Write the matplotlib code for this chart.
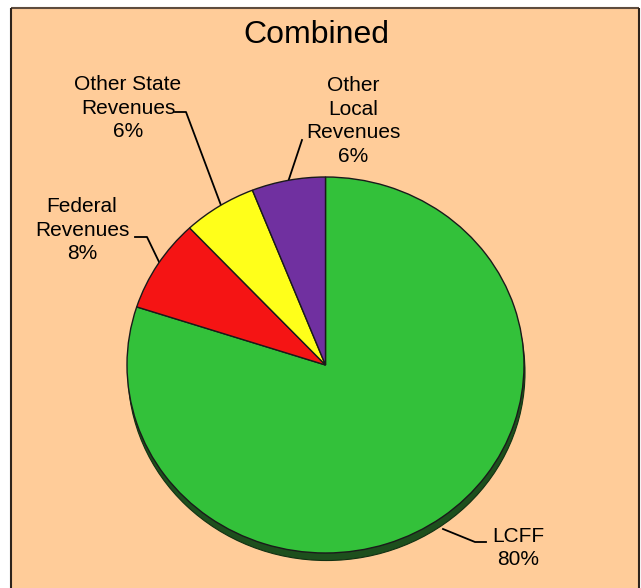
import matplotlib
matplotlib.use('Agg')
import matplotlib.pyplot as plt
from matplotlib.patches import Rectangle, Ellipse

plt.rcParams['font.family'] = ['Liberation Sans', 'DejaVu Sans']

# ========== 数据 ==========
categories = ['LCFF', 'Federal\nRevenues', 'Other State\nRevenues', 'Other\nLocal\nRevenues']
shares = [80, 8, 6, 6]
colors = ['#33C13A', '#F51414', '#FFFF1A', '#7030A0']
title = 'Combined'

# 标签位置（像素坐标）和引线
label_pos = [(518, 548), (82, 230), (128, 108), (353, 121)]
leaders = [
    [(443, 529), (475, 542), (486, 542)],
    [(135, 237), (147, 237), (161, 266)],
    [(175, 112), (186, 112), (222, 208)],
    [(302, 140), (288, 182)],
]

W, H = 641, 588
fig = plt.figure(figsize=(W / 100, H / 100), dpi=100)
fig.patch.set_facecolor('white')

# 背景层，像素坐标
bg = fig.add_axes([0, 0, 1, 1])
bg.set_xlim(0, W)
bg.set_ylim(H, 0)
bg.axis('off')
bg.add_patch(Rectangle((11, 8), 628, 580, facecolor='#FFCC99', edgecolor='none'))
bg.plot([11, 639], [8, 8], color='#5e4c3e', lw=1.5, solid_capstyle='butt')
bg.plot([11, 11], [8, H], color='#2e231b', lw=1.5, solid_capstyle='butt')
bg.plot([639, 639], [8, H], color='#2e231b', lw=1.5, solid_capstyle='butt')

bg.text(316, 35, title, fontsize=23, ha='center', va='center', color='black')

for name, pct, (x, y), pts in zip(categories, shares, label_pos, leaders):
    bg.text(x, y, f'{name}\n{pct}%', fontsize=15, ha='center', va='center',
            linespacing=1.3, color='black')
    xs, ys = zip(*pts)
    bg.plot(xs, ys, color='black', lw=1.3)

# 饼图层（略扁的椭圆，带一点立体阴影）
cx, cy, rx, ry = 325.5, 365, 198.5, 188
pax = fig.add_axes([0, 0, 1, 1])
pax.patch.set_visible(False)
pax.add_patch(Ellipse((0.005, -0.04), 2, 2, facecolor='#1d4f1d', edgecolor='#123012',
                      lw=0.8, zorder=0))
pax.pie(shares, colors=colors, startangle=90, counterclock=False, radius=1,
        wedgeprops={'edgecolor': '#1a1a1a', 'linewidth': 1})
pax.set_aspect('auto')
pax.set_xlim(-1.02, 1.02)
pax.set_ylim(-1.06, 1.02)
pax.set_position([(cx - rx * 1.02) / W, (H - (cy + ry * 1.06)) / H,
                  2.04 * rx / W, 2.08 * ry / H])
pax.axis('off')

plt.savefig('out.png', dpi=100, facecolor='white')
